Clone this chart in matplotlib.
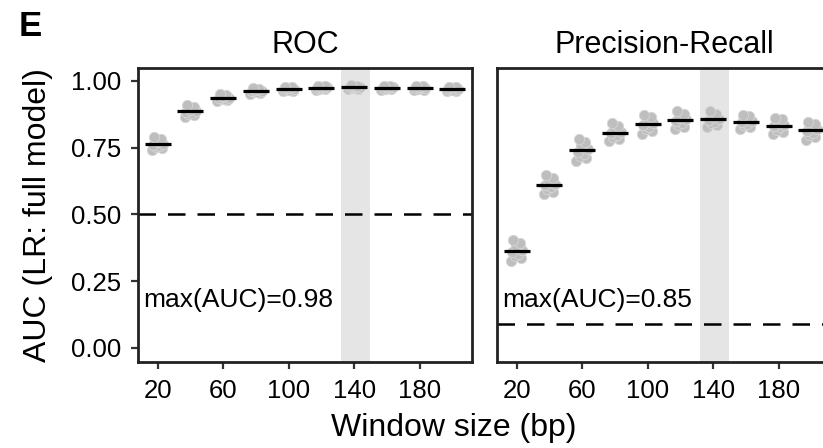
import numpy as np
import matplotlib
matplotlib.use("Agg")
import matplotlib.pyplot as plt

plt.rcParams["font.family"] = ["Liberation Sans", "DejaVu Sans"]

WINDOWS = [20, 40, 60, 80, 100, 120, 140, 160, 180, 200]
BEST_WINDOW = 140

# per-window replicate AUCs (logistic regression, full model)
ROC_REPS = [
    [0.742, 0.748, 0.753, 0.757, 0.761, 0.765, 0.769, 0.774, 0.780, 0.788],
    [0.865, 0.870, 0.875, 0.879, 0.883, 0.887, 0.891, 0.896, 0.901, 0.908],
    [0.924, 0.927, 0.930, 0.933, 0.935, 0.937, 0.940, 0.943, 0.947, 0.952],
    [0.952, 0.954, 0.956, 0.958, 0.961, 0.963, 0.965, 0.967, 0.969, 0.972],
    [0.960, 0.962, 0.964, 0.966, 0.968, 0.970, 0.972, 0.974, 0.976, 0.978],
    [0.966, 0.968, 0.970, 0.972, 0.973, 0.975, 0.976, 0.978, 0.980, 0.982],
    [0.968, 0.970, 0.972, 0.974, 0.975, 0.977, 0.978, 0.980, 0.982, 0.984],
    [0.966, 0.968, 0.970, 0.972, 0.973, 0.975, 0.976, 0.978, 0.980, 0.982],
    [0.965, 0.967, 0.969, 0.971, 0.972, 0.974, 0.975, 0.977, 0.979, 0.981],
    [0.961, 0.963, 0.965, 0.967, 0.968, 0.970, 0.972, 0.974, 0.976, 0.978],
]
PR_REPS = [
    [0.325, 0.336, 0.345, 0.352, 0.360, 0.366, 0.373, 0.381, 0.392, 0.405],
    [0.575, 0.585, 0.594, 0.602, 0.608, 0.613, 0.620, 0.628, 0.637, 0.648],
    [0.700, 0.710, 0.719, 0.727, 0.735, 0.743, 0.751, 0.760, 0.770, 0.780],
    [0.775, 0.783, 0.790, 0.797, 0.803, 0.809, 0.815, 0.822, 0.831, 0.842],
    [0.800, 0.810, 0.818, 0.826, 0.834, 0.842, 0.849, 0.856, 0.864, 0.873],
    [0.820, 0.828, 0.836, 0.843, 0.850, 0.856, 0.862, 0.869, 0.877, 0.885],
    [0.826, 0.833, 0.840, 0.847, 0.853, 0.858, 0.864, 0.870, 0.877, 0.885],
    [0.820, 0.827, 0.833, 0.839, 0.845, 0.850, 0.855, 0.861, 0.867, 0.873],
    [0.800, 0.809, 0.817, 0.825, 0.830, 0.835, 0.841, 0.848, 0.855, 0.862],
    [0.778, 0.788, 0.797, 0.805, 0.812, 0.818, 0.825, 0.832, 0.838, 0.845],
]
ROC_MEDIAN = [0.763, 0.885, 0.936, 0.9625, 0.969, 0.974, 0.976, 0.974, 0.9726, 0.969]
PR_MEDIAN = [0.363, 0.610, 0.739, 0.806, 0.839, 0.853, 0.855, 0.846, 0.832, 0.816]
ROC_BASELINE = 0.50
PR_BASELINE = 0.0915
ROC_MAX = 0.98
PR_MAX = 0.85

# fixed horizontal spread so replicates don't stack on one vertical line
JITTER = [-3.5, 2.5, -1.2, 1.0, -2.6, 3.5, 0.0, -0.6, 2.0, -2.0]

W, H, DPI = 823, 448, 100
fig = plt.figure(figsize=(W / DPI, H / DPI), dpi=DPI)
ax_roc = fig.add_axes([138 / W, 86 / H, 334 / W, 294 / H])
ax_pr = fig.add_axes([497 / W, 86 / H, 334 / W, 294 / H])


def panel(ax, reps, medians, baseline, best, title):
    ax.axvspan(BEST_WINDOW - 8, BEST_WINDOW + 9.5, color="#e5e5e5", lw=0, zorder=0)
    ax.axhline(baseline, color="black", lw=1.8, ls=(0, (7, 4.8)), zorder=1)
    for w, vals in zip(WINDOWS, reps):
        xs = [w + j for j in JITTER[:len(vals)]]
        ax.scatter(xs, vals, s=55, color="#bebebe", edgecolor="#d6d6d6",
                   linewidth=0.6, zorder=2)
    ax.hlines(medians, [w - 8 for w in WINDOWS], [w + 8 for w in WINDOWS],
              color="black", lw=2.3, zorder=3)
    ax.text(11, 0.178, f"max(AUC)={best:.2f}", fontsize=19, va="center", ha="left")
    ax.set_xlim(8, 212)
    ax.set_ylim(-0.0525, 1.0475)
    ax.set_xticks([20, 60, 100, 140, 180])
    ax.set_yticks([0, 0.25, 0.5, 0.75, 1.0])
    ax.set_title(title, fontsize=22, pad=11)
    for s in ax.spines.values():
        s.set_linewidth(2.0)
        s.set_color("#222222")
    ax.tick_params(direction="out", length=5, width=1.6, color="#333333",
                   labelsize=18.5, pad=7)


panel(ax_roc, ROC_REPS, ROC_MEDIAN, ROC_BASELINE, ROC_MAX, "ROC")
panel(ax_pr, PR_REPS, PR_MEDIAN, PR_BASELINE, PR_MAX, "Precision-Recall")
ax_roc.set_yticklabels(["0.00", "0.25", "0.50", "0.75", "1.00"])
ax_pr.tick_params(axis="y", left=False, labelleft=False)

fig.text(38 / W, 1 - 215 / H, "AUC (LR: full model)", rotation=90,
         fontsize=23, ha="center", va="center")
fig.text(454 / W, 1 - 428 / H, "Window size (bp)", fontsize=23,
         ha="center", va="center")
fig.text(19 / W, 1 - 27 / H, "E", fontsize=25, fontweight="bold",
         ha="left", va="center")

fig.savefig("out.png", dpi=DPI)
